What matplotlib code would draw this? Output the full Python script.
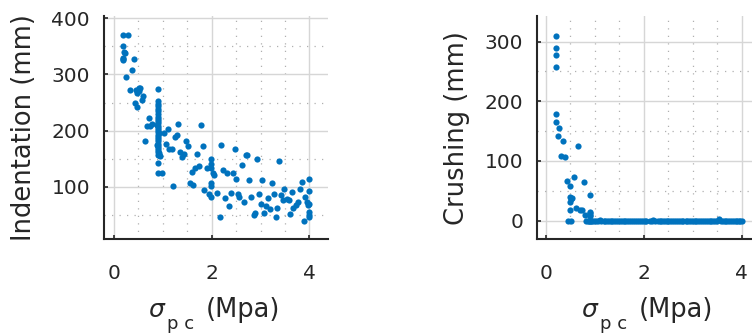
import matplotlib
matplotlib.use("Agg")
import matplotlib.pyplot as plt
from matplotlib.ticker import MultipleLocator

# ---------------- data ----------------
# Left panel: indentation vs sigma_pc
ind_x = [0.18, 0.29, 0.18, 0.20, 0.23, 0.18, 0.18, 0.19, 0.41, 0.37, 0.26, 0.33,
         0.46, 0.47, 0.52, 0.51, 0.54, 0.57, 0.59, 0.44, 0.48, 0.72, 0.67, 0.74,
         0.78, 0.63,
         0.90, 0.90, 0.90, 0.90, 0.90, 0.90, 0.90, 0.90, 0.90, 0.90, 0.90, 0.90,
         0.90, 0.90, 0.90, 0.90, 0.90, 0.90, 0.90, 0.90, 0.90, 0.90, 0.90, 0.90,
         0.90, 0.90, 0.90, 0.88, 0.88, 0.92, 0.92,
         0.99, 0.92, 0.95, 1.02, 1.10, 1.07, 1.13, 1.19, 1.21, 1.25, 1.29, 1.32,
         1.36, 1.40, 1.44, 1.47, 1.51, 1.55, 1.62, 1.59, 1.66, 1.70, 1.74, 1.78,
         1.82, 1.85, 1.90, 1.95, 1.98, 1.98, 1.98, 1.98, 1.98, 1.98, 2.02, 2.05,
         2.12, 2.17, 2.19, 2.23, 2.28, 2.32, 2.35, 2.39, 2.43, 2.47, 2.50, 2.54,
         2.57, 2.62, 2.66, 2.70, 2.73, 2.77, 2.80, 2.86, 2.89, 2.92, 2.96, 3.00,
         3.04, 3.07, 3.11, 3.15, 3.19, 3.23, 3.27, 3.31, 3.34, 3.38, 3.42, 3.46,
         3.49, 3.54, 3.58, 3.61, 3.65, 3.67, 3.72, 3.76, 3.80, 3.84, 3.88, 3.91,
         3.95, 3.97, 4.00, 4.00, 4.00, 4.00, 4.00, 4.00]
ind_y = [370, 370, 351, 340, 339, 330, 326, 328, 327, 307, 295, 272,
         272, 267, 275, 270, 275, 255, 262, 250, 242, 223, 208, 208,
         211, 181,
         274, 252, 247, 243, 238, 234, 229, 225, 221, 217, 213, 209,
         205, 201, 197, 193, 189, 185, 181, 177, 173, 169, 165, 161,
         157, 143, 125, 210, 175, 195, 160,
         125, 156, 155, 196, 203, 177, 167, 167, 101, 188, 192, 211,
         162, 153, 159, 182, 172, 106, 103, 126, 133, 158, 137, 210,
         173, 95, 134, 87, 82, 149, 141, 133, 107, 101, 125, 121,
         89, 47, 174, 130, 80, 125, 65, 89, 125, 168, 114, 88,
         81, 139, 72, 157, 156, 112, 82, 49, 54, 149, 88, 69,
         112, 54, 65, 80, 60, 107, 87, 47, 63, 146, 85, 76,
         96, 79, 77, 51, 91, 63, 68, 72, 96, 108, 39, 82,
         73, 67, 113, 93, 55, 49, 47, 69]

# Right panel: crushing vs sigma_pc (non-zero part)
cr_x = [0.20, 0.20, 0.20, 0.20, 0.20, 0.20, 0.27, 0.24, 0.35, 0.31, 0.39, 0.65,
        0.43, 0.58, 0.49, 0.77, 0.90, 0.50, 0.54, 0.51, 0.49, 0.49, 0.61, 0.69,
        0.73, 0.46, 0.52, 0.80, 0.90, 0.90, 0.90, 0.90]
cr_y = [310, 289, 277, 258, 178, 165, 156, 142, 133, 109, 107, 125,
        66, 73, 58, 64, 43, 39, 37, 36, 31, 17, 21, 18,
        18, 0, 0, 9, 15, 12, 9, 7]
# Right panel: crushing vs sigma_pc (near-zero part)
cr0_x = [0.82, 0.86, 0.88, 0.90, 0.92, 0.95, 0.99, 1.02, 1.07, 1.10, 1.13, 1.19,
         1.21, 1.25, 1.29, 1.32, 1.36, 1.40, 1.44, 1.47, 1.51, 1.55, 1.59, 1.62,
         1.66, 1.70, 1.74, 1.78, 1.82, 1.85, 1.90, 1.95, 1.98, 2.02, 2.05, 2.12,
         2.17, 2.19, 2.23, 2.28, 2.32, 2.35, 2.39, 2.43, 2.47, 2.50, 2.54, 2.57,
         2.62, 2.66, 2.70, 2.73, 2.77, 2.80, 2.86, 2.89, 2.92, 2.96, 3.00, 3.04,
         3.07, 3.11, 3.15, 3.19, 3.23, 3.27, 3.31, 3.34, 3.38, 3.42, 3.46, 3.49,
         3.54, 3.58, 3.61, 3.65, 3.67, 3.72, 3.76, 3.80, 3.84, 3.88, 3.91, 3.95,
         3.97, 4.00]
cr0_y = [0, 0, 0, 0, 0, 0, 0, 0, 0, 1.5, 0, 0,
         0, 0, 0, 0, 0, 0, 0, 0, 0, 0, 0, 0,
         0, 0, 0, 0, 0, 0, 0, 0, 0, 0, 0, 0,
         0, 1, 0, 0, 0, 0, 0, 0, 0, 0, 0, 0,
         0, 0, 0, 0, 0, 0, 0, 0, 0, 0, 0, 0,
         0, 0, 0, 0, 0, 0, 0, 0, 0, 0, 0, 0,
         2, 0, 0, 0, 0, 0, 0, 0, 0, 0, 0, 0,
         0, 0]

x_ticks = [0, 2, 4]
ind_ticks = [100, 200, 300, 400]
cr_ticks = [0, 100, 200, 300]

# ---------------- style ----------------
plt.rcParams['font.family'] = ['DejaVu Sans']
plt.rcParams['mathtext.fontset'] = 'dejavusans'
TXT = '#262626'
BLUE = '#0072BD'

W, H = 752, 335
fig = plt.figure(figsize=(W / 100, H / 100), dpi=100)


def fx(px):
    return px / W


def fy(py):
    return 1 - py / H


def make_ax(left_px, xlim, ylim, yticks, ylabel, ylab_x):
    ax = fig.add_axes([left_px / W, (H - 239) / H, 224 / W, 223 / H])
    ax.set_xlim(*xlim)
    ax.set_ylim(*ylim)
    ax.set_xticks(x_ticks)
    ax.set_yticks(yticks)
    ax.xaxis.set_minor_locator(MultipleLocator(0.5))
    ax.yaxis.set_minor_locator(MultipleLocator(50))
    ax.grid(True, which='major', color='#d6d6d6', lw=1.0, zorder=0)
    ax.grid(True, which='minor', color='#b0b0b0', lw=0.9, ls=(0, (1, 5)), zorder=0)
    ax.set_axisbelow(True)
    for s in ['top', 'right']:
        ax.spines[s].set_visible(False)
    for s in ['left', 'bottom']:
        ax.spines[s].set_color(TXT)
        ax.spines[s].set_linewidth(1.5)
    ax.tick_params(which='major', direction='in', length=3, width=1.2, color=TXT,
                   labelsize=14.5, labelcolor=TXT)
    ax.tick_params(axis='x', which='major', pad=18)
    ax.tick_params(axis='y', which='major', pad=10)
    ax.tick_params(which='minor', length=0)
    fig.text(fx(ylab_x), fy(128), ylabel, rotation=90, ha='center', va='center',
             fontsize=18.5, color=TXT)
    # x label: sigma with lowered subscript, then unit
    off = left_px - 104
    fig.text(fx(148 + off), fy(317), r'$\sigma$', ha='left', va='baseline',
             fontsize=18, color=TXT)
    fig.text(fx(167 + off), fy(329), 'p c', ha='left', va='baseline',
             fontsize=13, color=TXT)
    fig.text(fx(206 + off), fy(317), '(Mpa)', ha='left', va='baseline',
             fontsize=18.5, color=TXT)
    return ax


ax1 = make_ax(104, (-0.2, 4.38), (7, 404), ind_ticks, 'Indentation (mm)', 24)
ax1.scatter(ind_x, ind_y, s=20, color=BLUE, linewidths=0, zorder=3, clip_on=False)

ax2 = make_ax(537, (-0.18, 4.39), (-31, 343), cr_ticks, 'Crushing (mm)', 457)
ax2.scatter(cr0_x, cr0_y, s=20, color=BLUE, linewidths=0, zorder=3, clip_on=False)
ax2.scatter(cr_x, cr_y, s=20, color=BLUE, linewidths=0, zorder=3, clip_on=False)

fig.savefig('out.png', dpi=100)
